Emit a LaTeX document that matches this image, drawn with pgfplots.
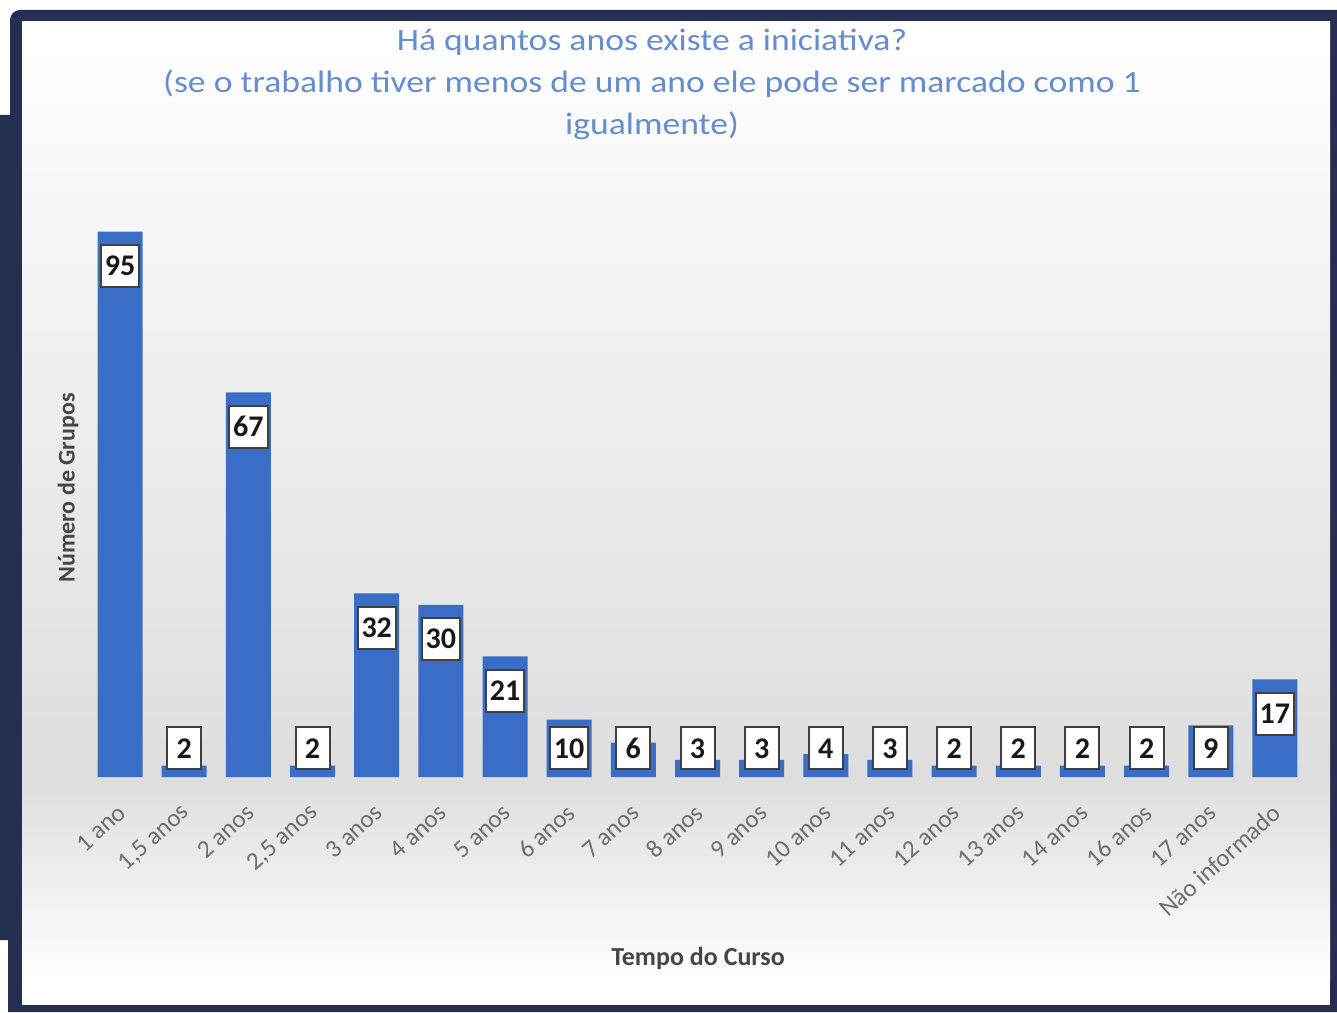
\documentclass[border=0pt]{standalone}
\usepackage{pgfplots}
\pgfplotsset{compat=1.18}
\usepackage{pgfplotstable}
\usepackage{fontspec}
\setmainfont{Carlito}
\newfontfamily\titlefont[FakeStretch=1.15]{Carlito}
\definecolor{navy}{RGB}{38,47,82}
\definecolor{barblue}{RGB}{58,110,198}
\definecolor{titleblue}{RGB}{100,142,205}
\definecolor{ticklab}{RGB}{110,110,110}
\definecolor{axlab}{RGB}{70,70,70}
\pgfplotstableread{
x y ly
0 95 89
1 2 5
2 67 61
3 2 5
4 32 26
5 30 24
6 21 15
7 10 5
8 6 5
9 3 5
10 3 5
11 4 5
12 3 5
13 2 5
14 2 5
15 2 5
16 2 5
17 9 5
18 17 11
}\datatable
\begin{document}
\begin{tikzpicture}[x=0.5pt,y=0.5pt]
\useasboundingbox (0,0) rectangle (1337,1012);
\fill[white] (0,0) rectangle (1337,1012);
\fill[navy] (0,72) -- (8,72) -- (8,0) -- (1337,0) -- (1337,1002) -- (20,1002) to[out=180,in=90] (10,992) -- (10,897) -- (0,897) -- cycle;
\shade[top color=white, bottom color=black!13] (22,235) rectangle (1330,990);
\shade[top color=black!13, bottom color=white] (22,30) rectangle (1330,235);
\fill[white] (22,7) rectangle (1330,30);
\node[align=center, text=titleblue, font=\titlefont\fontsize{15.5}{21}\selectfont] at (652,928) {Há quantos anos existe a iniciativa?\\(se o trabalho tiver menos de um ano ele pode ser marcado como 1\\igualmente)};
\node[rotate=90, font=\bfseries\fontsize{12}{14}\selectfont, text=axlab] at (68,524) {Número de Grupos};
\node[font=\bfseries\fontsize{13}{15}\selectfont, text=axlab] at (698,54) {Tempo do Curso};
\begin{axis}[
  at={(44pt,117.5pt)}, anchor=south west,
  scale only axis, width=609.5pt, height=287pt,
  xmin=-0.5, xmax=18.5, ymin=0, ymax=100,
  axis line style={draw=none},
  ytick=\empty,
  xtick=data,
  xtick style={draw=none},
  /pgf/number format/assume math mode=true,
  xticklabels={1 ano,{1,5 anos},2 anos,{2,5 anos},3 anos,4 anos,5 anos,6 anos,7 anos,8 anos,9 anos,10 anos,11 anos,12 anos,13 anos,14 anos,16 anos,17 anos,Não informado},
  xticklabel style={yshift=-16pt, xshift=1pt, rotate=42, anchor=east, inner sep=0pt, text=ticklab, font=\fontsize{12.5}{14}\selectfont},
  clip=false,
]
\addplot[ybar, bar width=22.5pt, fill=barblue, draw=none] table[x=x, y=y] {\datatable};
\addplot[draw=none, mark=none, point meta=explicit,
  nodes near coords, nodes near coords align={center},
  every node near coord/.append style={anchor=center, draw=black!75, line width=1pt, fill=white, text=black!90, font=\bfseries\fontsize{15}{17}\selectfont, minimum width=17pt, minimum height=21pt, inner sep=2pt}
] table[x=x, y=ly, meta=y] {\datatable};
\end{axis}
\end{tikzpicture}
\end{document}
